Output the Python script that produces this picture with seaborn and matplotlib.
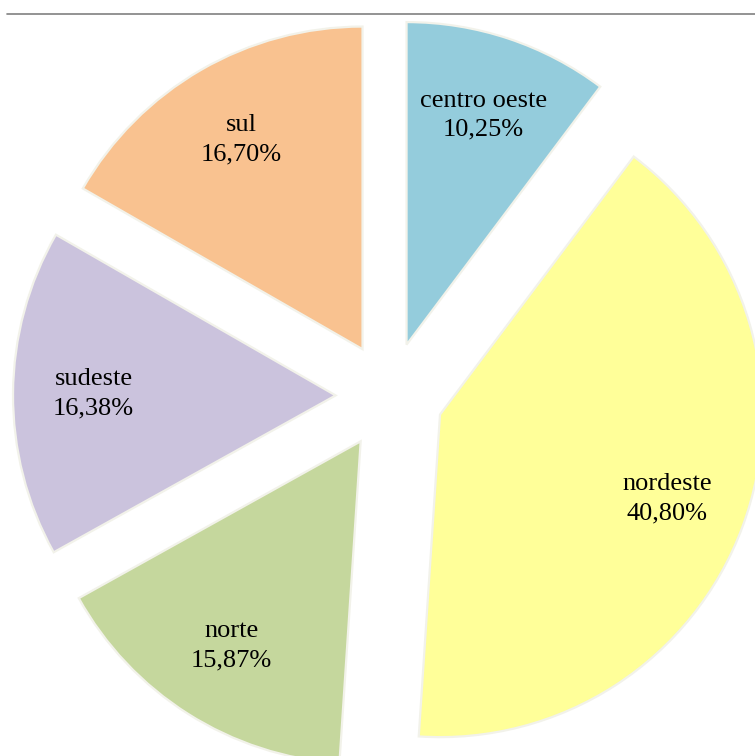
import matplotlib
matplotlib.use("Agg")
import matplotlib.pyplot as plt
import seaborn as sns
from matplotlib.lines import Line2D

categories = ["centro oeste", "nordeste", "norte", "sudeste", "sul"]
values = [10.25, 40.80, 15.87, 16.38, 16.70]
colors_hex = ["#94CCDC", "#FFFF99", "#C5D79D", "#CBC3DD", "#F9C290"]

sns.set_theme(style="white")
plt.rcParams['font.family'] = ['Liberation Serif', 'DejaVu Serif']

palette = sns.color_palette(colors_hex)
labels = [f"{c}\n{v:.2f}%".replace(".", ",") for c, v in zip(categories, values)]

fig = plt.figure(figsize=(7.55, 7.56), dpi=100)
ax = fig.add_axes([0, 0, 1, 1])
wedges, texts = ax.pie(values, labels=labels, colors=palette, startangle=90,
                       counterclock=False, explode=[0.167] * len(values),
                       labeldistance=0.75, radius=1,
                       wedgeprops=dict(edgecolor="#f2f2ea", linewidth=1.6),
                       textprops=dict(fontsize=19, color="black"))
for t in texts:
    t.set_ha("center")
    t.set_va("center")
    t.set_multialignment("center")
    t.set_linespacing(1.4)

cx, cy, s = 389.5, 395.8, 322.6
ax.set_xlim(-cx / s, (755 - cx) / s)
ax.set_ylim(-(756 - cy) / s, cy / s)
ax.set_aspect("auto")
ax.axis("off")

fig.add_artist(Line2D([7 / 755, 1], [1 - 14 / 756, 1 - 14 / 756],
                      transform=fig.transFigure, color="#808080", linewidth=1.2))

fig.savefig("out.png", dpi=100)
